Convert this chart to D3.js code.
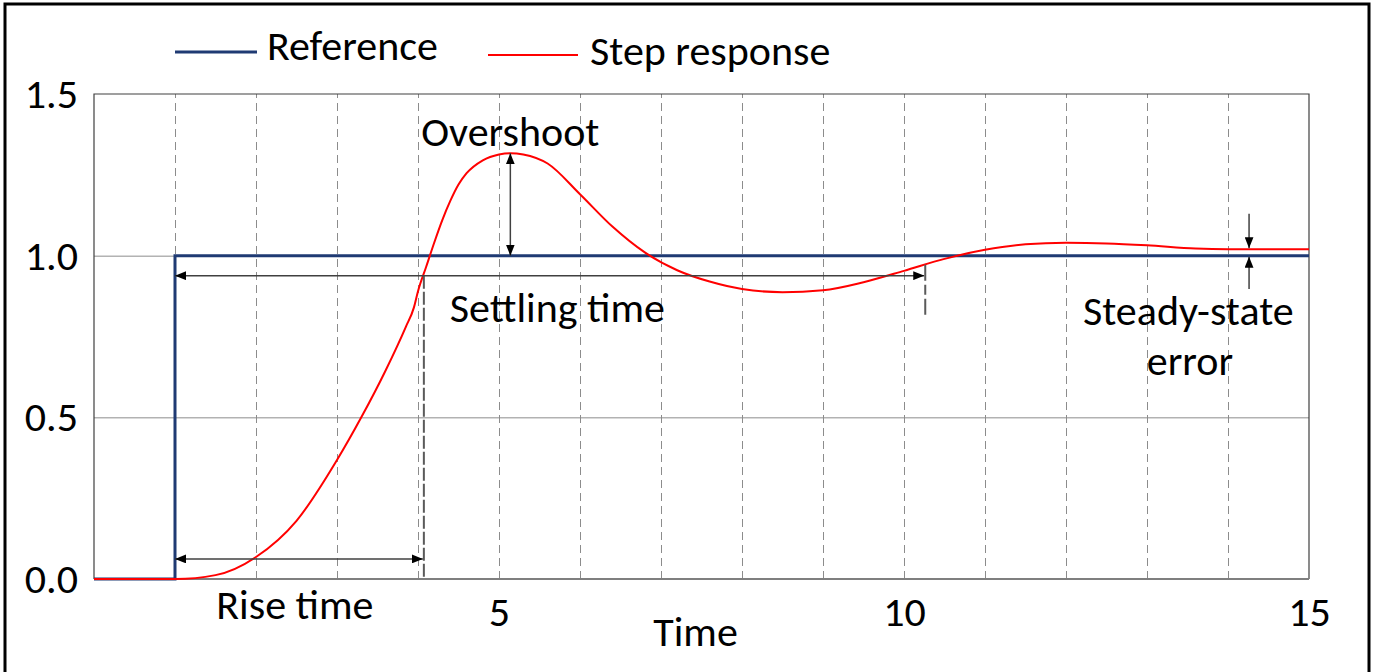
<!DOCTYPE html>
<html>
<head>
<meta charset="utf-8">
<script src="https://cdn.jsdelivr.net/npm/d3@7"></script>
<style>
  html, body { margin: 0; padding: 0; background: #fff; }
  svg { display: block; }
  text { font-family: Carlito, Calibri, "Open Sans", sans-serif; fill: #000; }
</style>
</head>
<body>
<svg id="chart" width="1373" height="672"></svg>
<script>
// Step response of a control loop against a unit reference step
const seriesNames = ["Reference", "Step response"];

const referenceTime  = [0, 1, 1, 15];
const referenceValue = [0, 0, 1, 1];

const responseTime  = [0, 1, 1.5, 2, 2.5, 3, 3.3, 3.6, 3.85, 3.95, 4.0, 4.1, 4.2, 4.3, 4.4, 4.5, 4.6, 4.8, 5.0, 5.14, 5.3, 5.6, 6.0, 6.4, 6.8, 7.2, 7.6, 8.0, 8.5, 9.0, 9.5, 10.0, 10.5, 11.0, 11.5, 12.0, 12.5, 13.0, 13.6, 14.0, 15];
const responseValue = [0, 0, 0.012, 0.068, 0.18, 0.368, 0.5, 0.645, 0.78, 0.84, 0.89, 0.965, 1.04, 1.11, 1.17, 1.22, 1.255, 1.295, 1.313, 1.317, 1.313, 1.285, 1.19, 1.09, 1.01, 0.955, 0.92, 0.897, 0.887, 0.893, 0.918, 0.953, 0.99, 1.018, 1.035, 1.04, 1.038, 1.032, 1.022, 1.02, 1.02];

const yTicks = [0, 0.5, 1.0, 1.5];
const xTicks = [5, 10, 15];
const gridTimes = [1, 2, 3, 4, 5, 6, 7, 8, 9, 10, 11, 12, 13, 14];
const gridValues = [0.5, 1.0];

// Characteristic quantities marked on the chart
const stepTime = 1;
const riseEnd = 4.06;
const riseLevel = 0.062;
const settleEnd = 10.25;
const settleLevel = 0.938;
const peakTime = 5.14;
const peakValue = 1.317;
const steadyValue = 1.02;
const steadyTime = 14.26;

const svg = d3.select("#chart");
const W = 1373, H = 672;
const m = { left: 94, top: 94, right: 64, bottom: 93 };
const iw = W - m.left - m.right, ih = H - m.top - m.bottom;
const FS = "42px";

const x = d3.scaleLinear().domain([0, 15]).range([0, iw]);
const y = d3.scaleLinear().domain([0, 1.5]).range([ih, 0]);

// outer frame
svg.append("rect").attr("x", 5).attr("y", 4).attr("width", 1364).attr("height", 690)
  .attr("fill", "none").attr("stroke", "#000").attr("stroke-width", 3);

const defs = svg.append("defs");
defs.append("marker").attr("id", "arrow")
  .attr("viewBox", "0 0 10 8").attr("refX", 10).attr("refY", 4)
  .attr("markerUnits", "userSpaceOnUse").attr("markerWidth", 11).attr("markerHeight", 9)
  .attr("orient", "auto-start-reverse")
  .append("path").attr("d", "M0,0 L10,4 L0,8 Z").attr("fill", "#000");

const g = svg.append("g").attr("transform", `translate(${m.left},${m.top})`);

// vertical dashed grid
g.append("g").attr("class", "vgrid")
  .attr("transform", `translate(0,${ih})`)
  .call(d3.axisBottom(x).tickValues(gridTimes).tickSize(-ih).tickFormat(""))
  .call(s => s.select(".domain").remove())
  .call(s => s.selectAll("line").attr("stroke", "#8c8c8c").attr("stroke-width", 1).attr("stroke-dasharray", "8,5"));

// horizontal grid
g.append("g").attr("class", "hgrid")
  .call(d3.axisLeft(y).tickValues(gridValues).tickSize(-iw).tickFormat(""))
  .call(s => s.select(".domain").remove())
  .call(s => s.selectAll("line").attr("stroke", "#8c8c8c").attr("stroke-width", 1));

// plot frame
g.append("path").attr("d", `M0,${ih} L0,0 L${iw},0 L${iw},${ih}`)
  .attr("fill", "none").attr("stroke", "#404040").attr("stroke-width", 1.2);
g.append("line").attr("x1", 0).attr("x2", iw).attr("y1", ih).attr("y2", ih)
  .attr("stroke", "#7f7f7f").attr("stroke-width", 2);

// axes labels
g.append("g").attr("class", "yaxis")
  .call(d3.axisLeft(y).tickValues(yTicks).tickSize(0).tickPadding(16).tickFormat(d3.format(".1f")))
  .call(s => s.select(".domain").remove())
  .call(s => s.selectAll("text").style("font-size", FS).attr("fill", "#000"));

g.append("g").attr("class", "xaxis")
  .attr("transform", `translate(0,${ih})`)
  .call(d3.axisBottom(x).tickValues(xTicks).tickSize(0).tickPadding(17).tickFormat(d3.format("d")))
  .call(s => s.select(".domain").remove())
  .call(s => s.selectAll("text").style("font-size", FS).attr("fill", "#000"));

g.append("text").attr("x", x(7.5) - 6).attr("y", ih + 67)
  .attr("text-anchor", "middle").style("font-size", FS).text("Time");

// series
const line = d3.line().x(d => x(d[0])).y(d => y(d[1]));
const refData = referenceTime.map((t, i) => [t, referenceValue[i]]);
const respData = responseTime.map((t, i) => [t, responseValue[i]]);

g.append("path").datum(refData).attr("d", line)
  .attr("fill", "none").attr("stroke", "#1f3a73").attr("stroke-width", 3);
g.append("path").datum(respData).attr("d", line.curve(d3.curveMonotoneX))
  .attr("fill", "none").attr("stroke", "#ff0000").attr("stroke-width", 2);

// annotations
const arrowLine = (x1, y1, x2, y2, both) => {
  const l = g.append("line").attr("x1", x1).attr("y1", y1).attr("x2", x2).attr("y2", y2)
    .attr("stroke", "#404040").attr("stroke-width", 1.5)
    .attr("marker-end", "url(#arrow)");
  if (both) l.attr("marker-start", "url(#arrow)");
  return l;
};

// rise time
arrowLine(x(stepTime), y(riseLevel), x(riseEnd), y(riseLevel), true);
g.append("line").attr("x1", x(riseEnd) + 1).attr("x2", x(riseEnd) + 1)
  .attr("y1", y(settleLevel)).attr("y2", ih)
  .attr("stroke", "#5a5a5a").attr("stroke-width", 2).attr("stroke-dasharray", "13,3");
g.append("text").attr("x", x(2.48)).attr("y", ih + 40).attr("text-anchor", "middle")
  .style("font-size", FS).text("Rise time");

// settling time
arrowLine(x(stepTime), y(settleLevel), x(settleEnd), y(settleLevel), true);
g.append("line").attr("x1", x(settleEnd) + 1).attr("x2", x(settleEnd) + 1)
  .attr("y1", y(settleLevel) - 11).attr("y2", y(settleLevel) + 41)
  .attr("stroke", "#5a5a5a").attr("stroke-width", 2).attr("stroke-dasharray", "16,4,10,4");
g.append("text").attr("x", x(5.72)).attr("y", 228).attr("text-anchor", "middle")
  .style("font-size", FS).text("Settling time");

// overshoot
arrowLine(x(peakTime), y(1.0), x(peakTime), y(peakValue), true);
g.append("text").attr("x", x(5.14)).attr("y", 52).attr("text-anchor", "middle")
  .style("font-size", FS).text("Overshoot");

// steady-state error
arrowLine(x(steadyTime), y(1.13), x(steadyTime), y(steadyValue) - 1, false);
arrowLine(x(steadyTime), y(0.897), x(steadyTime), y(1.0) + 1, false);
const sse = g.append("text").attr("text-anchor", "middle").style("font-size", FS);
sse.append("tspan").attr("x", x(13.51)).attr("y", 231).text("Steady-state");
sse.append("tspan").attr("x", x(13.53)).attr("y", 281).text("error");

// legend
const legend = svg.append("g");
const legendItems = [
  { name: seriesNames[0], color: "#1f3a73", w: 3, x1: 175, x2: 257, ly: 52, tx: 267, ty: 60 },
  { name: seriesNames[1], color: "#ff0000", w: 2, x1: 488, x2: 578, ly: 55, tx: 590, ty: 65 }
];
legendItems.forEach(d => {
  legend.append("line").attr("x1", d.x1).attr("x2", d.x2).attr("y1", d.ly).attr("y2", d.ly)
    .attr("stroke", d.color).attr("stroke-width", d.w);
  legend.append("text").attr("x", d.tx).attr("y", d.ty).style("font-size", FS).text(d.name);
});
</script>
</body>
</html>
